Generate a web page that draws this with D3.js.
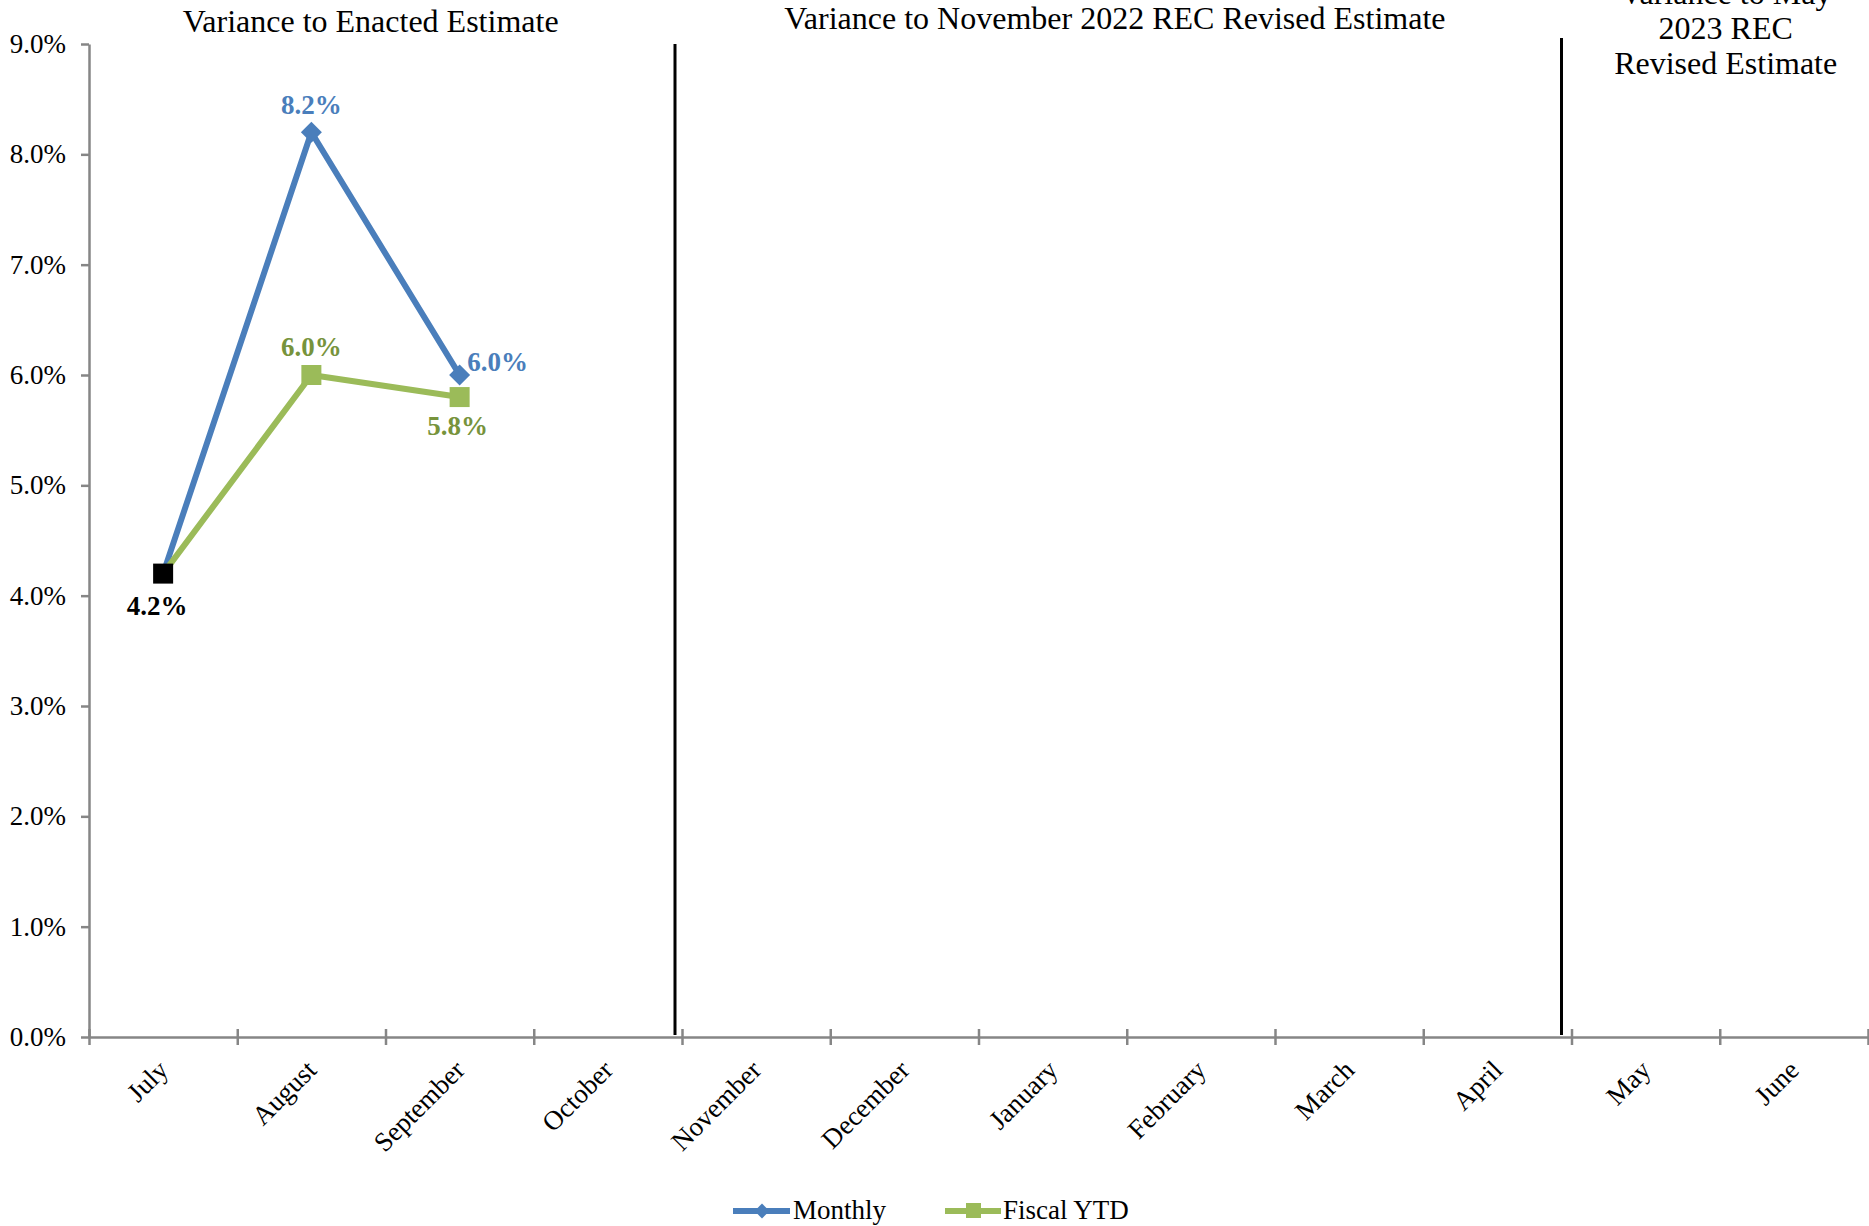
<!DOCTYPE html>
<html>
<head>
<meta charset="utf-8">
<script src="https://cdn.jsdelivr.net/npm/d3@7"></script>
<style>
  html, body { margin: 0; padding: 0; background: #ffffff; }
  svg { display: block; }
  text { font-family: "Liberation Serif", "Times New Roman", serif; }
</style>
</head>
<body>
<script>
// Fiscal-year months
const months = ["July", "August", "September", "October", "November", "December",
                "January", "February", "March", "April", "May", "June"];

// Variance (%) by month; null = not yet reported
const monthly   = [4.2, 8.2, 6.0, null, null, null, null, null, null, null, null, null];
const fiscalYTD = [4.2, 6.0, 5.8, null, null, null, null, null, null, null, null, null];

// Y axis ticks (%)
const yTicks = [0, 1, 2, 3, 4, 5, 6, 7, 8, 9];

// Estimate periods: title lines for each one
const periodTitles = [
  ["Variance to Enacted Estimate"],
  ["Variance to November 2022 REC Revised Estimate"],
  ["Variance to May", "2023 REC", "Revised Estimate"]
];

const seriesNames = ["Monthly", "Fiscal YTD"];

// ---- layout ----
const W = 1869, H = 1226;
const plotLeft = 89, plotRight = 1868, plotTop = 44, plotBottom = 1037;
const blue = "#4a7ebb", green = "#9bbb59";
const blueText = "#4a7ebb", greenText = "#77933c";
const axisGrey = "#868686";

const svg = d3.select("body").append("svg")
  .attr("width", W).attr("height", H);

const x = d3.scaleBand().domain(months).range([plotLeft, plotRight]).padding(0);
const xi = d3.scaleLinear().domain([0, months.length]).range([plotLeft, plotRight]);
const y = d3.scaleLinear().domain([0, 9]).range([plotBottom, plotTop]);
const cx = m => x(m) + x.bandwidth() / 2;

// Y axis
const yAxis = svg.append("g")
  .attr("transform", `translate(${plotLeft},0)`)
  .call(d3.axisLeft(y).tickValues(yTicks).tickFormat(d => d.toFixed(1) + "%")
        .tickSizeInner(8).tickSizeOuter(0).tickPadding(15));
yAxis.select(".domain").attr("stroke", axisGrey).attr("stroke-width", 2.5);
yAxis.selectAll(".tick line").attr("stroke", axisGrey).attr("stroke-width", 2.5);
yAxis.selectAll(".tick text")
  .attr("font-size", 27).attr("font-family", "Liberation Serif, Times New Roman, serif")
  .attr("fill", "#000");

// X axis: tick marks sit between categories and cross the axis line
const xAxis = svg.append("g")
  .attr("transform", `translate(0,${plotBottom})`)
  .call(d3.axisBottom(xi).tickValues(d3.range(months.length + 1)).tickFormat("")
        .tickSizeInner(8).tickSizeOuter(0));
xAxis.select(".domain").attr("stroke", axisGrey).attr("stroke-width", 2.5);
xAxis.selectAll(".tick line").attr("y1", -8).attr("y2", 8)
  .attr("stroke", axisGrey).attr("stroke-width", 2.5);

// Month labels, rotated
svg.append("g").selectAll("text").data(months).join("text")
  .attr("transform", d => `translate(${cx(d)},${plotBottom + 28}) rotate(-45)`)
  .attr("text-anchor", "end")
  .attr("dy", "0.35em")
  .attr("font-size", 27)
  .attr("fill", "#000")
  .text(d => d);

// Period separators and titles
const separators = [
  { x: x("November") - 7, y1: 44 },
  { x: x("May") - 10, y1: 38 }
];
separators.forEach(s => {
  svg.append("line")
    .attr("x1", s.x).attr("x2", s.x)
    .attr("y1", s.y1).attr("y2", plotBottom - 2)
    .attr("stroke", "#000").attr("stroke-width", 3);
});
const titleCenter = [xi(1.9), xi(6.92), xi(11.04)];
const titleBase = [32, 29, 4];
periodTitles.forEach((lines, i) => {
  const t = svg.append("text")
    .attr("text-anchor", "middle")
    .attr("font-size", 32)
    .attr("fill", "#000");
  lines.forEach((ln, j) => {
    t.append("tspan").attr("x", titleCenter[i]).attr("y", titleBase[i] + j * 35).text(ln);
  });
});

// Lines
const line = d3.line()
  .defined(d => d.v != null)
  .x(d => cx(d.m))
  .y(d => y(d.v));
const pts = arr => months.map((m, i) => ({ m, v: arr[i], i }));

const monthlyPts = pts(monthly).filter(d => d.v != null);
const ytdPts = pts(fiscalYTD).filter(d => d.v != null);

svg.append("path").datum(pts(monthly))
  .attr("d", line).attr("fill", "none")
  .attr("stroke", blue).attr("stroke-width", 6).attr("stroke-linejoin", "round");
svg.append("path").datum(pts(fiscalYTD))
  .attr("d", line).attr("fill", "none")
  .attr("stroke", green).attr("stroke-width", 6).attr("stroke-linejoin", "round");

// Markers
const diamond = d3.symbol().type(d3.symbolSquare).size(220);
svg.append("g").selectAll("path").data(monthlyPts.filter(d => d.i > 0)).join("path")
  .attr("d", diamond)
  .attr("transform", d => `translate(${cx(d.m)},${y(d.v)}) rotate(45)`)
  .attr("fill", blue);
svg.append("g").selectAll("rect").data(ytdPts.filter(d => d.i > 0)).join("rect")
  .attr("x", d => cx(d.m) - 10).attr("y", d => y(d.v) - 10)
  .attr("width", 20).attr("height", 20)
  .attr("fill", green);
// Opening month shared by both series, highlighted in black
svg.append("g").selectAll("rect").data(ytdPts.filter(d => d.i === 0)).join("rect")
  .attr("x", d => cx(d.m) - 10).attr("y", d => y(d.v) - 10)
  .attr("width", 20).attr("height", 20)
  .attr("fill", "#000");

// Data labels
const labelPlacement = {
  Monthly: { 1: [0, -28], 2: [38, -13] },
  YTD: { 0: [-6, 32], 1: [0, -28], 2: [-2, 28] }
};
const fmt = v => v.toFixed(1) + "%";
function addLabels(points, place, color) {
  svg.append("g").selectAll("text")
    .data(points.filter(d => place[d.i]))
    .join("text")
    .attr("x", d => cx(d.m) + place[d.i][0])
    .attr("y", d => y(d.v) + place[d.i][1])
    .attr("dy", "0.35em")
    .attr("text-anchor", "middle")
    .attr("font-size", 27).attr("font-weight", "bold")
    .attr("fill", d => d.i === 0 ? "#000" : color)
    .text(d => fmt(d.v));
}
addLabels(monthlyPts, labelPlacement.Monthly, blueText);
addLabels(ytdPts, labelPlacement.YTD, greenText);

// Legend
const legend = svg.append("g").attr("transform", "translate(733,1211)");
const lg1 = legend.append("g");
lg1.append("line").attr("x1", 0).attr("x2", 57).attr("y1", 0).attr("y2", 0)
  .attr("stroke", blue).attr("stroke-width", 6);
lg1.append("path").attr("d", d3.symbol().type(d3.symbolSquare).size(110))
  .attr("transform", "translate(29,0) rotate(45)").attr("fill", blue);
lg1.append("text").attr("x", 60).attr("y", 0).attr("dy", "0.3em")
  .attr("font-size", 27).attr("fill", "#000").text(seriesNames[0]);
const lg2 = legend.append("g").attr("transform", "translate(212,0)");
lg2.append("line").attr("x1", 0).attr("x2", 56).attr("y1", 0).attr("y2", 0)
  .attr("stroke", green).attr("stroke-width", 6);
lg2.append("rect").attr("x", 21).attr("y", -8).attr("width", 15).attr("height", 15)
  .attr("fill", green);
lg2.append("text").attr("x", 58).attr("y", 0).attr("dy", "0.3em")
  .attr("font-size", 27).attr("fill", "#000").text(seriesNames[1]);
</script>
</body>
</html>
